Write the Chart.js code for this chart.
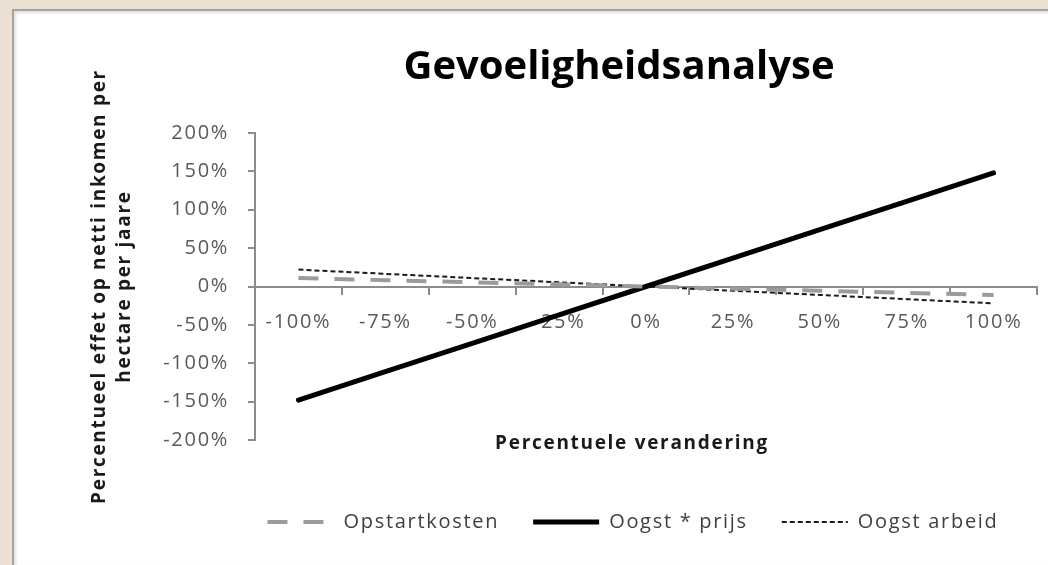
<!DOCTYPE html>
<html>
<head>
<meta charset="utf-8">
<script src="https://cdn.jsdelivr.net/npm/chart.js@4/dist/chart.umd.min.js"></script>
<style>
  html, body { margin: 0; padding: 0; }
  body { width: 1048px; height: 565px; background: #ecdfd4; position: relative; overflow: hidden; }
  #panel { position: absolute; left: 12px; top: 9px; right: 0; bottom: 0; background: #ffffff;
           border-top: 2px solid #a3a3a3; border-left: 2px solid #a3a3a3;
           box-shadow: inset 2px 2px 3px rgba(0,0,0,0.12); }
  #wrap { position: absolute; left: 0; top: 0; width: 1048px; height: 565px; }
</style>
</head>
<body>
<div id="panel"></div>
<div id="wrap"><canvas id="c" width="1048" height="565"></canvas></div>
<script>
// ---- data ----
const categories = ['-100%', '-75%', '-50%', '-25%', '0%', '25%', '50%', '75%', '100%'];
const opstartkosten = [11, 8.3, 5.5, 2.8, 0, -2.8, -5.5, -8.3, -11];
const oogstPrijs = [-148, -111, -74, -37, 0, 37, 74, 111, 148];
const oogstArbeid = [22, 16.5, 11, 5.5, 0, -5.5, -11, -16.5, -22];
const yTickValues = [-200, -150, -100, -50, 0, 50, 100, 150, 200];
const seriesNames = ['Opstartkosten', 'Oogst * prijs', 'Oogst arbeid'];
const chartTitle = 'Gevoeligheidsanalyse';
const xTitle = 'Percentuele verandering';
const yTitle = ['Percentueel effet op netti inkomen per', 'hectare per jaare'];

Chart.defaults.font.family = "'Open Sans', sans-serif";
Chart.defaults.animation = false;

const axisGray = '#8c8c8c';
const tickText = '#595959';
const textSpacing = '1.7px';

function shiftBox(box, center) {
  if (!box) return;
  const d = center - (box.left + box.right) / 2;
  box.left += d; box.right += d;
}
const layoutTweaks = {
  id: 'layoutTweaks',
  beforeLayout(chart) { chart.ctx.letterSpacing = textSpacing; },
  afterLayout(chart) {
    const a = chart.chartArea;
    const mid = (a.left + a.right) / 2;
    shiftBox(chart.titleBlock, mid - 27);
    shiftBox(chart.legend, mid - 13);
    shiftBox(chart.scales.x2, mid - 14);
    const t = chart.titleBlock;
    if (t && !t._noSpacing) {
      const orig = t.draw.bind(t);
      t.draw = (area) => {
        const c = chart.ctx; const prev = c.letterSpacing;
        c.letterSpacing = '0px'; orig(area); c.letterSpacing = prev;
      };
      t._noSpacing = true;
    }
  },
  beforeDraw(chart) { chart.ctx.letterSpacing = textSpacing; },
  afterDraw(chart) { chart.ctx.letterSpacing = '0px'; }
};

new Chart(document.getElementById('c'), {
  type: 'line',
  data: {
    labels: categories,
    datasets: [
      { label: seriesNames[0], data: opstartkosten, borderColor: '#9b9b9b', backgroundColor: '#9b9b9b',
        borderWidth: 4, borderDash: [20, 16], pointRadius: 0, tension: 0, borderCapStyle: 'butt' },
      { label: seriesNames[1], data: oogstPrijs, borderColor: '#000000', backgroundColor: '#000000',
        borderWidth: 5, pointRadius: 0, tension: 0, borderCapStyle: 'round' },
      { label: seriesNames[2], data: oogstArbeid, borderColor: '#1a1a1a', backgroundColor: '#1a1a1a',
        borderWidth: 2, borderDash: [5, 3], pointRadius: 0, tension: 0 }
    ]
  },
  options: {
    responsive: false,
    maintainAspectRatio: false,
    layout: { padding: { left: 80, right: 11, top: 0, bottom: 23 } },
    plugins: {
      title: {
        display: true, text: chartTitle, color: '#000000',
        font: { size: 40, weight: 'bold' },
        padding: { top: 44, bottom: 41 }
      },
      legend: {
        position: 'bottom',
        labels: {
          usePointStyle: true, pointStyle: 'line', pointStyleWidth: 66,
          color: '#404040', font: { size: 20 }, padding: 34,
          generateLabels(chart) {
            const items = Chart.defaults.plugins.legend.labels.generateLabels(chart);
            items.forEach(it => {
              const ds = chart.data.datasets[it.datasetIndex];
              it.lineDash = ds.borderDash || [];
              it.lineWidth = ds.borderWidth;
              it.strokeStyle = ds.borderColor;
              it.lineCap = 'butt';
              it.pointStyle = 'line';
            });
            return items;
          }
        }
      },
      tooltip: { enabled: false }
    },
    scales: {
      x: {
        type: 'category',
        position: { y: 0 },
        offset: true,
        grid: { offset: true, drawOnChartArea: false, drawTicks: true, tickLength: 7, color: axisGray, lineWidth: 2 },
        border: { display: true, color: axisGray, width: 2 },
        ticks: { color: tickText, font: { size: 20 }, padding: 17, maxRotation: 0, autoSkip: false }
      },
      x2: {
        type: 'category',
        labels: categories,
        position: 'bottom',
        afterFit(scale) { scale.height = 38; },
        grid: { display: false },
        border: { display: false },
        ticks: { display: false },
        title: { display: true, text: xTitle, color: '#1a1a1a', font: { size: 19, weight: 'bold' },
                 padding: { top: 0, bottom: 23 } }
      },
      y: {
        min: -200, max: 200,
        afterBuildTicks(scale) { scale.ticks = yTickValues.map(v => ({ value: v })); },
        afterFit(scale) { scale.width = 175; },
        grid: { drawOnChartArea: false, drawTicks: true, tickLength: 7, color: axisGray, lineWidth: 2 },
        border: { display: true, color: axisGray, width: 2 },
        ticks: { color: tickText, font: { size: 20 }, padding: 19, callback: v => v + '%' },
        title: { display: true, text: yTitle, color: '#1a1a1a',
                 font: { size: 19, weight: 'bold', lineHeight: 25 / 19 },
                 padding: { top: 7.5, bottom: 10 } }
      }
    }
  },
  plugins: [layoutTweaks]
});
</script>
</body>
</html>
